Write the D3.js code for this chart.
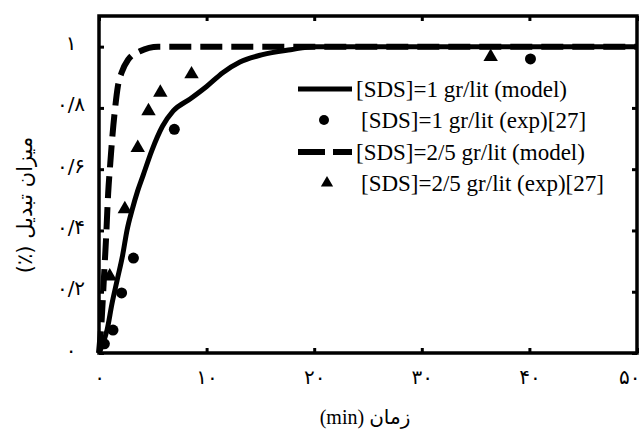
<!DOCTYPE html>
<html>
<head>
<meta charset="utf-8">
<script src="https://cdn.jsdelivr.net/npm/d3@7"></script>
<style>
  body { margin: 0; background: #fff; }
  text { font-family: "Liberation Serif", "DejaVu Sans", serif; fill: #000; }
</style>
</head>
<body>
<svg id="chart" width="641" height="430"></svg>
<script>
// tick values and their Persian labels
const xTicks = [0, 10, 20, 30, 40, 50];
const xTickLabels = ["۰", "۱۰", "۲۰", "۳۰", "۴۰", "۵۰"];
const yTicks = [0, 0.2, 0.4, 0.6, 0.8, 1];
const yTickLabels = ["۰", "۰/۲", "۰/۴", "۰/۶", "۰/۸", "۱"];

// [SDS]=1 gr/lit, model curve
const model1Time = [0, 0.3, 0.75, 1.2, 1.7, 2.2, 2.6, 3.1, 3.6, 4.1, 4.9, 5.9, 6.9, 8.5, 10, 11.5, 13.1, 15.2, 17.8, 20, 50];
const model1Conv = [0, 0.025, 0.075, 0.16, 0.24, 0.32, 0.40, 0.47, 0.53, 0.58, 0.66, 0.74, 0.79, 0.83, 0.87, 0.915, 0.95, 0.974, 0.99, 1.0, 1.0];

// [SDS]=2/5 gr/lit, model curve
const model25Time = [0, 0.25, 0.45, 0.65, 0.85, 1.05, 1.25, 1.5, 1.75, 2.1, 2.7, 3.8, 5.5, 50];
const model25Conv = [0, 0.11, 0.24, 0.37, 0.52, 0.62, 0.71, 0.80, 0.87, 0.915, 0.957, 0.985, 1.0, 1.0];

// experimental points [27]
const exp1Time = [0.5, 1.3, 2.1, 3.2, 7.0, 40.1];
const exp1Conv = [0.03, 0.075, 0.196, 0.31, 0.73, 0.96];
const exp25Time = [1.0, 2.4, 3.6, 4.6, 5.7, 8.6, 36.4];
const exp25Conv = [0.25, 0.47, 0.67, 0.79, 0.85, 0.91, 0.967];

const legendLabels = [
  "[SDS]=1 gr/lit (model)",
  "[SDS]=1 gr/lit (exp)[27]",
  "[SDS]=2/5 gr/lit (model)",
  "[SDS]=2/5 gr/lit (exp)[27]"
];

const svg = d3.select("#chart");
const m = { left: 99, right: 637, top: 16, bottom: 353 };

const x = d3.scaleLinear().domain([0, 50]).range([m.left, m.right]);
const y = d3.scaleLinear().domain([0, 1.1]).range([m.bottom, m.top]);

const zip = (a, b) => a.map((t, i) => ({ t: t, v: b[i] }));

// axes, ticks pointing inward on all four sides
const fmtX = d => xTickLabels[xTicks.indexOf(d)];
const fmtY = d => yTickLabels[yTicks.indexOf(d)];

const gx = svg.append("g")
  .attr("transform", "translate(0," + m.bottom + ")")
  .call(d3.axisBottom(x).tickValues(xTicks).tickFormat(fmtX).tickSizeInner(-5).tickSizeOuter(0).tickPadding(17));
const gy = svg.append("g")
  .attr("transform", "translate(" + m.left + ",0)")
  .call(d3.axisLeft(y).tickValues(yTicks).tickFormat(fmtY).tickSizeInner(-5).tickSizeOuter(0).tickPadding(28));
const gt = svg.append("g")
  .attr("transform", "translate(0," + m.top + ")")
  .call(d3.axisTop(x).tickValues(xTicks).tickFormat("").tickSizeInner(-5).tickSizeOuter(0));
const gr = svg.append("g")
  .attr("transform", "translate(" + m.right + ",0)")
  .call(d3.axisRight(y).tickValues(yTicks).tickFormat("").tickSizeInner(-5).tickSizeOuter(0));

[gx, gy, gt, gr].forEach(g => {
  g.select(".domain").remove();
  g.selectAll(".tick line").attr("stroke", "#000").attr("stroke-width", 3);
  g.selectAll(".tick text")
    .style("font-family", "'DejaVu Sans', sans-serif")
    .style("font-size", "20px");
});
gy.selectAll(".tick text").attr("text-anchor", "middle").attr("dy", "0.15em");
// last label sits against the right edge of the picture
gx.selectAll(".tick text").filter(d => d === 50).attr("text-anchor", "end").attr("dx", "3");

// frame
svg.append("rect")
  .attr("x", m.left).attr("y", m.top)
  .attr("width", m.right - m.left).attr("height", m.bottom - m.top)
  .attr("fill", "none").attr("stroke", "#000").attr("stroke-width", 3.5);

// model curves
const line = d3.line().x(d => x(d.t)).y(d => y(d.v)).curve(d3.curveMonotoneX);

svg.append("path")
  .datum(zip(model1Time, model1Conv))
  .attr("d", line)
  .attr("fill", "none").attr("stroke", "#000").attr("stroke-width", 5);

svg.append("path")
  .datum(zip(model25Time, model25Conv))
  .attr("d", line)
  .attr("fill", "none").attr("stroke", "#000").attr("stroke-width", 6)
  .attr("stroke-dasharray", "22,9");

// experimental markers
svg.append("g").selectAll("circle")
  .data(zip(exp1Time, exp1Conv))
  .join("circle")
  .attr("cx", d => x(d.t)).attr("cy", d => y(d.v))
  .attr("r", 5.5).attr("fill", "#000");

const tri = d3.symbol().type(d3.symbolTriangle).size(90);
svg.append("g").selectAll("path")
  .data(zip(exp25Time, exp25Conv))
  .join("path")
  .attr("d", tri)
  .attr("transform", d => "translate(" + x(d.t) + "," + y(d.v) + ")")
  .attr("fill", "#000");

// legend
const legend = svg.append("g");
const rowY = [89, 120, 152, 183];
const textX = [356, 361, 356, 361];

legend.append("line")
  .attr("x1", 298).attr("x2", 352).attr("y1", rowY[0]).attr("y2", rowY[0])
  .attr("stroke", "#000").attr("stroke-width", 5);
legend.append("circle")
  .attr("cx", 324).attr("cy", rowY[1]).attr("r", 5).attr("fill", "#000");
legend.append("line")
  .attr("x1", 298).attr("x2", 352).attr("y1", rowY[2]).attr("y2", rowY[2])
  .attr("stroke", "#000").attr("stroke-width", 6).attr("stroke-dasharray", "27,8");
legend.append("path")
  .attr("d", d3.symbol().type(d3.symbolTriangle).size(65))
  .attr("transform", "translate(327," + rowY[3] + ")");

legend.selectAll("text")
  .data(legendLabels)
  .join("text")
  .attr("x", (d, i) => textX[i])
  .attr("y", (d, i) => rowY[i])
  .attr("dy", "0.35em")
  .style("font-size", "23px")
  .text(d => d);

// axis titles
svg.append("text")
  .attr("x", 365).attr("y", 417)
  .attr("text-anchor", "middle")
  .attr("direction", "rtl")
  .attr("dy", "0.35em")
  .style("font-size", "20px")
  .text("زمان (min)");

svg.append("text")
  .attr("transform", "translate(25,205) rotate(-90)")
  .attr("text-anchor", "middle")
  .attr("direction", "rtl")
  .attr("dy", "0.35em")
  .style("font-family", "'DejaVu Sans', sans-serif")
  .style("font-size", "21px")
  .text("میزان تبدیل (٪)");
</script>
</body>
</html>
